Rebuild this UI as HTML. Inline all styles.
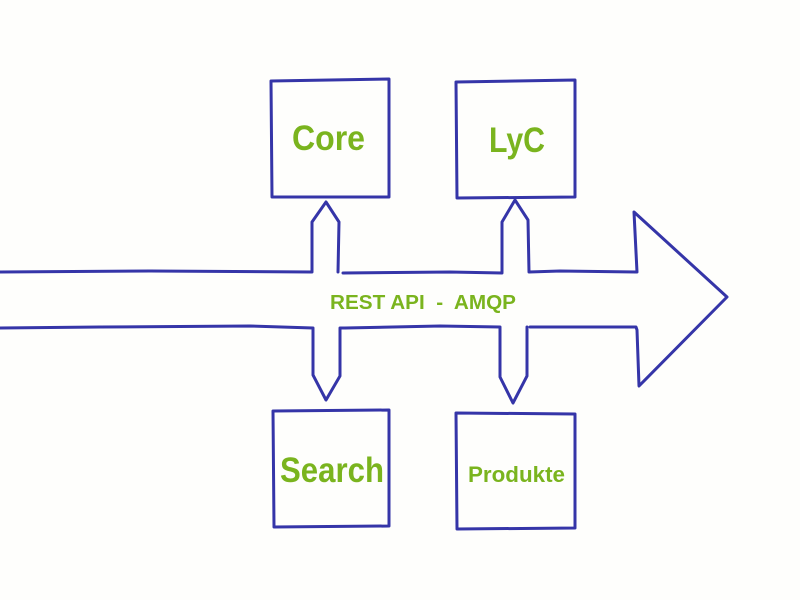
<!DOCTYPE html>
<html><head><meta charset="utf-8"><style>
html,body{margin:0;padding:0;background:#fefefc;}
svg{display:block}
text{font-family:"Liberation Sans",sans-serif;font-weight:bold;fill:#7ab41e}
</style></head><body>
<svg width="800" height="600" viewBox="0 0 800 600">
<g fill="none" stroke="#3535a8" stroke-width="3" stroke-linejoin="round" stroke-linecap="round">
<path d="M271,81 L389,79 L389,197 L272,197 Z"/>
<path d="M456,82 L575,80 L575,197 L457,198 Z"/>
<path d="M273,411 L389,410 L389,526 L274,527 Z"/>
<path d="M456,413 L575,414 L575,528 L457,529 Z"/>
<path d="M0,272 L150,271 L312,272 L312,222 L326,202 L339,222 L338,272"/>
<path d="M343,273 L450,272 L502,273 L502,222 L515,200 L528,220 L529,272 L560,271 L637,272 L634,212 L727,297 L639,386 L637,330 L636,327 L600,327 L530,327"/>
<path d="M527,327 L527,376 L513,403 L500,377 L500,327 L440,326 L345,328 L340,328 L340,376 L326,400 L313,375 L313,328 L250,326 L100,327 L0,328"/>
</g>
<text x="292" y="150" font-size="35" textLength="73" lengthAdjust="spacingAndGlyphs">Core</text>
<text x="489" y="152" font-size="35" textLength="56" lengthAdjust="spacingAndGlyphs">LyC</text>
<text x="280" y="482" font-size="35" textLength="104" lengthAdjust="spacingAndGlyphs">Search</text>
<text x="468" y="482" font-size="22" textLength="97" lengthAdjust="spacingAndGlyphs">Produkte</text>
<text x="330" y="309" font-size="20" textLength="186" lengthAdjust="spacingAndGlyphs" xml:space="preserve">REST API  -  AMQP</text>
</svg>
</body></html>
